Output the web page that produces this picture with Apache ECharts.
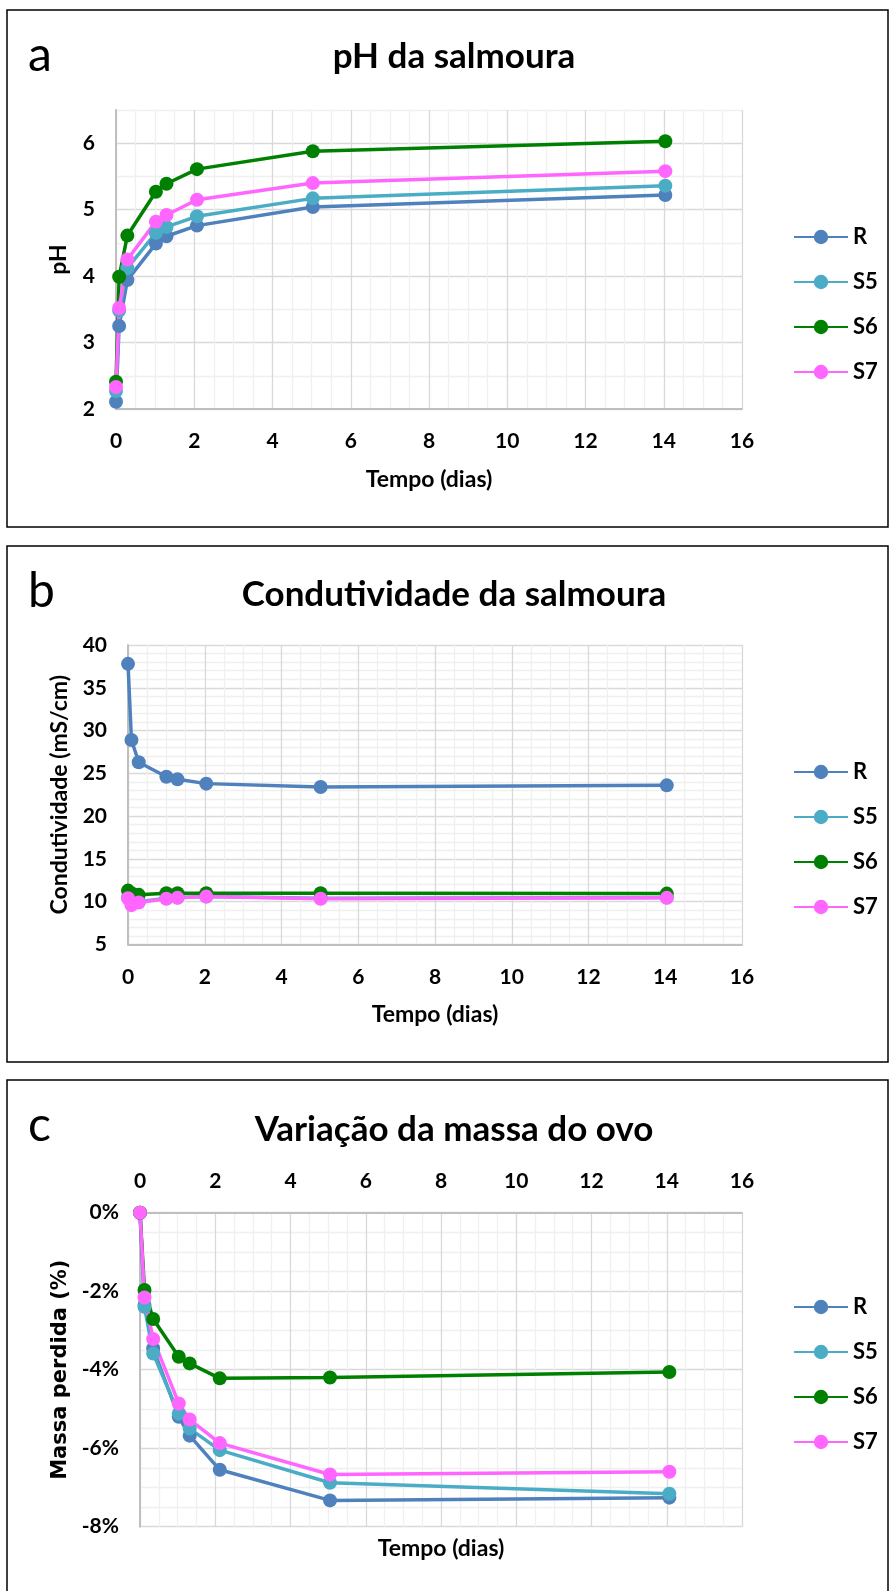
<!DOCTYPE html>
<html>
<head>
<meta charset="utf-8">
<script src="https://cdn.jsdelivr.net/npm/echarts@6/dist/echarts.min.js"></script>
<style>
  html, body { margin: 0; padding: 0; background: #ffffff; }
  #chart { width: 890px; height: 1591px; }
</style>
</head>
<body>
<div id="chart"></div>
<script>
// Series names and colours (same for all three panels)
const seriesNames = ['R', 'S5', 'S6', 'S7'];
const seriesColors = ['#4f81bd', '#4bacc6', '#008000', '#ff66ff'];

// Panel a: brine pH over time (days)
const tempoPH = [0, 0.08, 0.29, 1.02, 1.29, 2.07, 5.03, 14.04];
const phR  = [2.11, 3.25, 3.94, 4.49, 4.60, 4.76, 5.04, 5.22];
const phS5 = [2.27, 3.48, 4.12, 4.65, 4.74, 4.90, 5.17, 5.36];
const phS6 = [2.41, 3.99, 4.61, 5.27, 5.39, 5.61, 5.88, 6.03];
const phS7 = [2.33, 3.52, 4.25, 4.82, 4.92, 5.15, 5.40, 5.58];

// Panel b: brine conductivity (mS/cm)
const tempoCond = [0, 0.09, 0.28, 1.0, 1.29, 2.04, 5.02, 14.04];
const condR  = [37.8, 28.9, 26.3, 24.6, 24.3, 23.8, 23.4, 23.6];
const condS5 = [10.5, 9.8, 10.0, 10.4, 10.5, 10.6, 10.4, 10.5];
const condS6 = [11.3, 11.0, 10.8, 11.0, 11.0, 11.0, 11.0, 10.95];
const condS7 = [10.4, 9.6, 9.9, 10.35, 10.45, 10.6, 10.35, 10.45];

// Panel c: egg mass change (%)
const tempoMassa = [0, 0.12, 0.35, 1.03, 1.32, 2.12, 5.05, 14.07];
const massaR  = [0, -2.35, -3.46, -5.20, -5.68, -6.55, -7.33, -7.26];
const massaS5 = [0, -2.40, -3.59, -5.12, -5.50, -6.05, -6.88, -7.16];
const massaS6 = [0, -1.97, -2.71, -3.67, -3.84, -4.22, -4.20, -4.06];
const massaS7 = [0, -2.16, -3.22, -4.86, -5.27, -5.87, -6.67, -6.60];

// Tick label steps
const xTickStep = 2;          // days between x labels
const phTickStep = 1;
const condTickStep = 5;
const massaTickStep = 2;

const FONT = 'Lato, Carlito, sans-serif';
const MAJOR = '#d9d9d9';
const MINOR = '#f0f0f0';
const AXIS = '#bfbfbf';

const tickFont = { fontFamily: FONT, fontWeight: 'bold', fontSize: 21, color: '#000' };
const nameFont = { fontFamily: FONT, fontWeight: 'bold', fontSize: 23, color: '#000' };

function isStep(v, step) {
  return Math.abs(v / step - Math.round(v / step)) < 1e-6;
}

function timeAxis(gridIndex, position, margin, withName, nameGap) {
  const ax = {
    type: 'value', gridIndex, min: 0, max: 16, interval: 0.5, position,
    axisLine: { show: true, onZero: false, lineStyle: { color: AXIS, width: 2 } },
    axisTick: { show: false },
    axisLabel: Object.assign({ margin, formatter: v => isStep(v, xTickStep) ? String(v) : '' }, tickFont),
    splitLine: { show: true, lineStyle: { color: [MAJOR, MINOR, MINOR, MINOR], width: 1.3 } }
  };
  if (withName) {
    ax.name = 'Tempo (dias)';
    ax.nameLocation = 'middle';
    ax.nameGap = nameGap;
    ax.nameTextStyle = nameFont;
  }
  return ax;
}

function valueAxis(gridIndex, min, max, minor, step, colors, fmt, name, nameGap, nameStyle) {
  return {
    type: 'value', gridIndex, min, max, interval: minor, position: 'left',
    axisLine: { show: true, onZero: false, lineStyle: { color: AXIS, width: 2 } },
    axisTick: { show: false },
    axisLabel: Object.assign({ margin: 21, formatter: v => isStep(v, step) ? fmt(v) : '' }, tickFont),
    splitLine: { show: true, lineStyle: { color: colors, width: 1.3 } },
    name, nameLocation: 'middle', nameGap, nameTextStyle: nameStyle || nameFont
  };
}

function panelSeries(idx, times, arrays) {
  return arrays.map((vals, i) => ({
    type: 'line',
    name: seriesNames[i],
    xAxisIndex: idx, yAxisIndex: idx,
    data: times.map((t, k) => [t, vals[k]]),
    symbol: 'circle', symbolSize: 14,
    lineStyle: { width: 3.5, color: seriesColors[i] },
    itemStyle: { color: seriesColors[i] },
    emphasis: { disabled: true },
    z: 3
  }));
}

function legendAt(top) {
  return {
    data: seriesNames, orient: 'vertical', left: 793, top, padding: 0,
    itemWidth: 54, itemHeight: 18, itemGap: 23, selectedMode: false,
    textStyle: { fontFamily: FONT, fontWeight: 'bold', fontSize: 22, color: '#000', lineHeight: 22 }
  };
}

function label(text, x, y, size, weight, family) {
  return {
    type: 'text', x, y, silent: true,
    style: { text, fontFamily: family || FONT, fontWeight: weight, fontSize: size, fill: '#000',
             align: weight === 'bold' ? 'center' : 'left', verticalAlign: 'middle' }
  };
}

function frame(y, h) {
  return { type: 'rect', silent: true, shape: { x: 7, y, width: 881, height: h },
           style: { fill: 'none', stroke: '#000', lineWidth: 1.5 } };
}

const chart = echarts.init(document.getElementById('chart'), null, { renderer: 'canvas' });

chart.setOption({
  animation: false,
  backgroundColor: '#ffffff',
  grid: [
    { left: 116, top: 110, width: 626, height: 299, outerBoundsMode: 'none' },
    { left: 128, top: 645, width: 614, height: 299.5, outerBoundsMode: 'none' },
    { left: 140, top: 1212.7, width: 602, height: 314, outerBoundsMode: 'none' }
  ],
  xAxis: [
    timeAxis(0, 'bottom', 22, true, 59),
    timeAxis(1, 'bottom', 22, true, 59),
    timeAxis(2, 'top', 21, false, 0)
  ],
  yAxis: [
    valueAxis(0, 2, 6.5, 0.5, phTickStep, [MAJOR, MINOR], v => String(v), 'pH', 46),
    valueAxis(1, 5, 40, 1, condTickStep, [MAJOR, MINOR, MINOR, MINOR, MINOR], v => String(v), 'Condutividade (mS/cm)', 57),
    valueAxis(2, -8, 0, 0.5, massaTickStep, [MAJOR, MINOR, MINOR, MINOR], v => v + '%', 'Massa perdida (%)', 67,
      { fontFamily: 'DejaVu Sans', fontWeight: 'bold', fontSize: 21, color: '#000' })
  ],
  legend: [legendAt(226), legendAt(761), legendAt(1296)],
  graphic: [
    frame(10, 517),
    frame(546, 516),
    frame(1080, 600),
    label('a', 28, 56, 48, 'normal'),
    label('b', 28, 592, 48, 'normal'),
    label('c', 28, 1126, 48, 'normal'),
    label('pH da salmoura', 454, 57, 35, 'bold'),
    label('Condutividade da salmoura', 454, 595, 35, 'bold'),
    label('Variação da massa do ovo', 454, 1130, 35, 'bold'),
    label('Tempo (dias)', 441, 1549, 23, 'bold')
  ],
  series: [].concat(
    panelSeries(0, tempoPH, [phR, phS5, phS6, phS7]),
    panelSeries(1, tempoCond, [condR, condS5, condS6, condS7]),
    panelSeries(2, tempoMassa, [massaR, massaS5, massaS6, massaS7])
  )
});
</script>
</body>
</html>
